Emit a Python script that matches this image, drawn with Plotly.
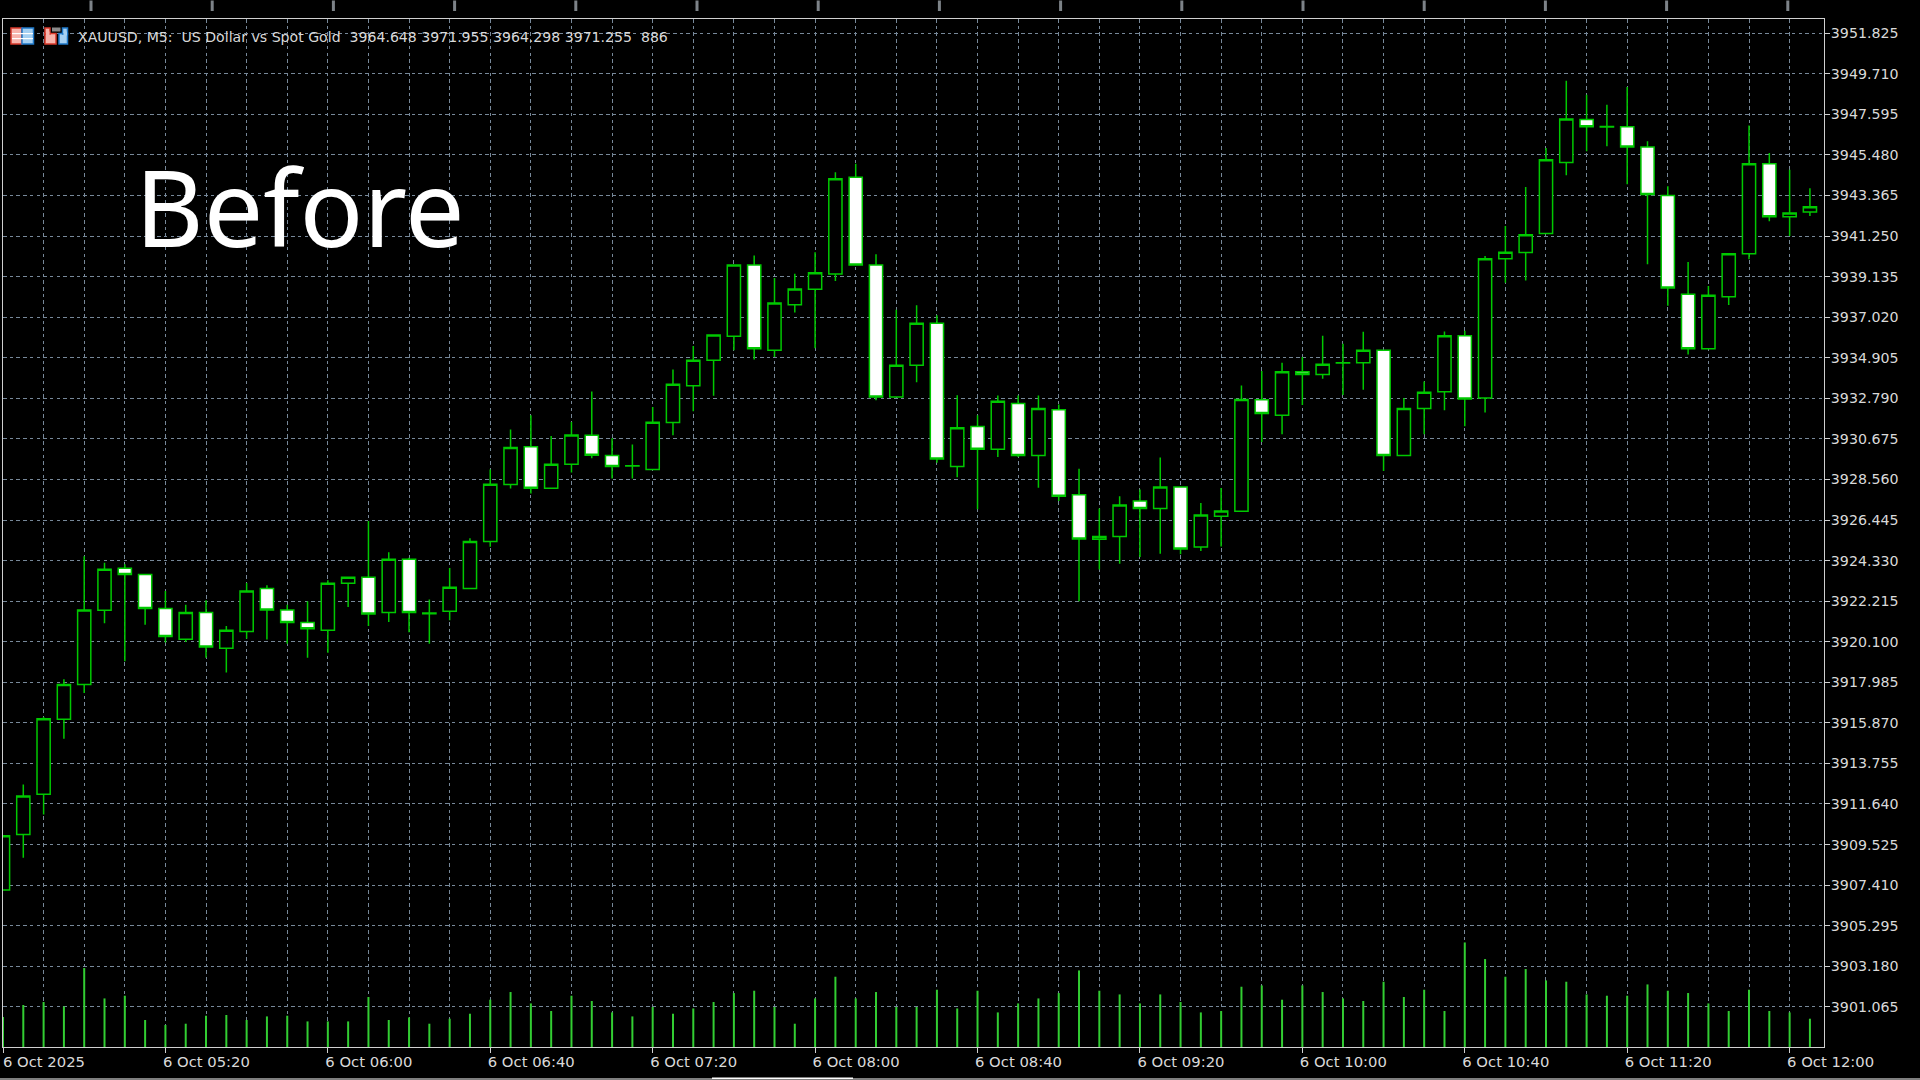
import pandas as pd
import plotly.graph_objects as go

opens = [3907.15,3910.05,3912.15,3916.06,3917.87,3921.74,3923.93,3923.60,3921.83,3920.23,
         3921.62,3919.76,3920.63,3922.87,3921.76,3921.10,3920.70,3923.15,3923.46,3921.62,
         3924.40,3921.60,3921.69,3922.87,3925.33,3928.30,3930.27,3928.10,3929.35,3930.87,
         3929.81,3929.28,3929.08,3931.53,3933.45,3934.77,3936.02,3939.74,3935.29,3937.67,
         3938.47,3939.27,3944.31,3939.74,3932.86,3934.51,3936.70,3929.23,3931.32,3930.14,
         3932.52,3929.81,3932.19,3927.76,3925.44,3925.58,3927.43,3927.04,3928.16,3925.04,
         3926.64,3926.90,3932.71,3931.91,3934.17,3934.03,3934.65,3934.64,3935.30,3929.81,
         3932.26,3933.13,3936.05,3932.80,3940.06,3940.39,3941.38,3945.09,3947.33,3946.96,
         3946.95,3945.89,3943.37,3938.22,3935.38,3938.08,3940.33,3945.02,3942.26,3942.50]
closes = [3909.98,3912.05,3916.08,3917.87,3921.76,3923.88,3923.61,3921.83,3920.37,3921.62,
          3919.83,3920.70,3922.75,3921.76,3921.10,3920.77,3923.15,3923.46,3921.55,3924.40,
          3921.62,3921.56,3922.94,3925.32,3928.31,3930.22,3928.10,3929.35,3930.88,3929.82,
          3929.23,3929.26,3931.54,3933.52,3934.77,3936.09,3939.74,3935.38,3937.76,3938.49,
          3939.34,3944.24,3939.74,3932.86,3934.51,3936.70,3929.62,3931.26,3930.14,3932.64,
          3929.81,3932.26,3927.69,3925.45,3925.59,3927.23,3927.04,3928.16,3924.93,3926.71,
          3926.91,3932.73,3932.00,3934.17,3934.03,3934.57,3934.63,3935.30,3929.81,3932.26,
          3933.11,3936.05,3932.75,3940.07,3940.40,3941.32,3945.23,3947.35,3946.95,3946.94,
          3945.89,3943.42,3938.54,3935.38,3938.16,3940.33,3945.02,3942.26,3942.45,3942.78]
highs = [3910.00,3912.66,3916.18,3918.14,3924.55,3924.22,3924.14,3923.60,3922.75,3922.03,
         3922.26,3920.92,3923.16,3923.04,3922.03,3922.21,3923.30,3923.46,3926.39,3924.76,
         3924.48,3922.30,3923.94,3925.49,3929.08,3931.16,3931.91,3930.83,3931.56,3933.14,
         3930.71,3930.38,3932.34,3934.29,3935.52,3936.09,3939.74,3940.23,3939.06,3939.29,
         3940.40,3944.58,3945.02,3940.30,3937.41,3937.64,3937.12,3932.95,3931.91,3932.94,
         3932.94,3932.94,3932.47,3929.12,3927.04,3927.68,3928.04,3929.71,3928.16,3927.33,
         3928.11,3933.46,3934.21,3934.64,3934.94,3936.05,3935.63,3936.26,3935.30,3932.80,
         3933.67,3936.27,3936.31,3940.21,3941.78,3943.81,3945.84,3949.35,3948.62,3948.10,
         3949.02,3946.19,3943.84,3939.90,3938.65,3940.33,3947.02,3945.58,3944.71,3943.74]
lows = [3907.15,3908.84,3911.09,3915.04,3917.43,3921.06,3919.08,3920.99,3920.06,3920.09,
        3919.26,3918.49,3920.26,3920.21,3920.00,3919.27,3919.53,3921.91,3920.92,3921.13,
        3920.59,3920.00,3921.22,3922.87,3925.05,3928.09,3927.83,3928.10,3928.92,3929.67,
        3928.61,3928.61,3929.08,3930.87,3932.12,3932.92,3935.29,3934.82,3934.95,3937.26,
        3935.40,3938.91,3939.74,3932.69,3932.86,3933.63,3929.43,3928.68,3927.00,3929.73,
        3929.73,3928.13,3927.43,3922.21,3923.86,3924.17,3924.52,3924.69,3924.66,3924.83,
        3925.07,3926.90,3930.51,3930.91,3932.44,3933.81,3932.96,3933.23,3929.00,3929.81,
        3930.91,3932.17,3931.34,3932.05,3938.81,3938.93,3941.38,3944.42,3945.67,3945.93,
        3943.95,3939.78,3937.61,3935.07,3935.38,3937.66,3940.04,3942.02,3941.25,3942.29]
volumes = [300,420,450,406,790,486,513,270,220,233,313,320,270,306,313,256,256,256,500,270,
           296,233,283,333,473,550,436,360,513,460,346,306,400,333,386,450,540,563,400,233,
           486,703,486,550,400,400,573,386,563,346,436,486,540,766,563,526,436,526,450,346,
           360,603,616,473,616,550,486,460,653,500,573,360,1046,880,703,780,666,653,526,513,
           513,626,563,540,436,360,573,360,346,283]

y_ticks = [3951.825,3949.710,3947.595,3945.480,3943.365,3941.250,3939.135,3937.020,3934.905,
           3932.790,3930.675,3928.560,3926.445,3924.330,3922.215,3920.100,3917.985,3915.870,
           3913.755,3911.640,3909.525,3907.410,3905.295,3903.180,3901.065]
y_labels = [f"{v:.3f}" for v in y_ticks]
x_ticks = ["2025-10-06 04:40","2025-10-06 05:20","2025-10-06 06:00","2025-10-06 06:40",
           "2025-10-06 07:20","2025-10-06 08:00","2025-10-06 08:40","2025-10-06 09:20",
           "2025-10-06 10:00","2025-10-06 10:40","2025-10-06 11:20","2025-10-06 12:00"]
x_labels = ["6 Oct 2025","6 Oct 05:20","6 Oct 06:00","6 Oct 06:40","6 Oct 07:20","6 Oct 08:00",
            "6 Oct 08:40","6 Oct 09:20","6 Oct 10:00","6 Oct 10:40","6 Oct 11:20","6 Oct 12:00"]
header = "XAUUSD, M5:  US Dollar vs Spot Gold  3964.648 3971.955 3964.298 3971.255  886"
stamp = "Before"

times = pd.date_range("2025-10-06 04:40", periods=len(opens), freq="5min")

W, H = 1920, 1080
L, R, T, B = 3, 1824, 18.5, 1047
px = lambda v: (v - L) / (R - L)
py = lambda v: (B - v) / (B - T)

GREEN = "#00c800"
GRID = "#778899"
TXT = "#d9d9d9"
DASH = "3.5px,3.2px"

fig = go.Figure()
fig.add_trace(go.Candlestick(
    x=times, open=opens, high=highs, low=lows, close=closes, whiskerwidth=0,
    increasing=dict(line=dict(color=GREEN, width=1.5), fillcolor="#000000"),
    decreasing=dict(line=dict(color=GREEN, width=1.5), fillcolor="#ffffff"),
    hoverinfo="skip", showlegend=False))
fig.add_trace(go.Bar(
    x=times, y=volumes, yaxis="y2", width=2 / 20.3 * 300000,
    marker=dict(color="#32cd32", line=dict(width=0)),
    hoverinfo="skip", showlegend=False))

shapes = []
# top tick marks of the platform window
for i in range(15):
    cx = 91 + i * 121.2
    shapes.append(dict(type="rect", xref="paper", yref="paper", layer="above",
                       x0=px(cx - 1.5), x1=px(cx + 1.5), y0=py(0), y1=py(10.5),
                       fillcolor="#7d8388", line=dict(width=0)))
# bottom scrollbar strip
shapes.append(dict(type="rect", xref="paper", yref="paper", x0=px(0), x1=px(1920), y0=py(1078), y1=py(1080),
                   fillcolor="#7f7f7f", line=dict(width=0)))
shapes.append(dict(type="rect", xref="paper", yref="paper", x0=px(712), x1=px(853), y0=py(1077.5), y1=py(1079),
                   fillcolor="#ffffff", line=dict(width=0)))
# header icons
def icon_rect(a, b, c, d, col, lw=0, lc=None):
    shapes.append(dict(type="rect", xref="paper", yref="paper", layer="above",
                       x0=px(a), x1=px(b), y0=py(c), y1=py(d), fillcolor=col,
                       line=dict(width=lw, color=lc or col)))
RED, BLUE, PINK, SKY = "#d8392b", "#1f78c8", "#f7b4ac", "#a5d0f2"
icon_rect(11, 22, 27.5, 43.5, PINK, 1.5, RED)
icon_rect(22, 33.5, 27.5, 43.5, SKY, 1.5, BLUE)
for yy in (32.5, 37.5):
    icon_rect(12, 33, yy, yy + 1.2, "#ffffff")
icon_rect(45, 56, 33, 43.5, PINK, 1.5, RED)
icon_rect(45, 50, 27.5, 33.5, PINK, 1.5, RED)
icon_rect(46, 49.5, 31, 35, PINK)
icon_rect(59, 67.5, 33, 43.5, SKY, 1.5, BLUE)
icon_rect(62.5, 67.5, 27.5, 33.5, SKY, 1.5, BLUE)
icon_rect(63.5, 67, 31, 35, SKY)
icon_rect(52, 60.5, 27, 31, "#8a8a8a")

annotations = [
    dict(text=header, xref="paper", yref="paper", x=px(76), y=py(36.5), xanchor="left", yanchor="middle",
         showarrow=False, font=dict(family="DejaVu Sans", size=14.1, color=TXT)),
    dict(text=stamp, xref="paper", yref="paper", x=px(132.5), y=py(205.5), xanchor="left", yanchor="middle",
         showarrow=False, font=dict(family="Noto Sans", size=105.6, color="#ffffff")),
]

fig.update_layout(
    width=W, height=H, autosize=False,
    paper_bgcolor="#000000", plot_bgcolor="#000000",
    margin=dict(l=L, r=W - R, t=T, b=H - B, pad=0),
    boxgap=0.35, boxgroupgap=0, barmode="overlay", showlegend=False,
    font=dict(family="DejaVu Sans", size=14, color=TXT),
    xaxis=dict(type="date", range=["2025-10-06 04:40:00", "2025-10-06 12:08:28"],
               rangeslider=dict(visible=False), tickmode="array", tickvals=x_ticks, ticktext=x_labels,
               ticks="outside", ticklen=5, tickcolor="#d0d0d0", tickwidth=1, ticklabelshift=41,
               ticklabelstandoff=-4, tickangle=0, tickfont=dict(size=14.8),
               showgrid=False,
               minor=dict(dtick=600000, tick0="2025-10-06 04:40", showgrid=True, gridcolor=GRID,
                          griddash=DASH, gridwidth=1, ticks=""),
               showline=True, mirror=True, linecolor="#d0d0d0", linewidth=1, zeroline=False),
    yaxis=dict(range=[3898.97, 3952.566], side="right", tickmode="array", tickvals=y_ticks, ticktext=y_labels,
               ticks="outside", ticklen=5, tickcolor="#d0d0d0", tickwidth=1, ticklabelstandoff=-2,
               tickfont=dict(size=14.2),
               showgrid=True, gridcolor=GRID, griddash=DASH, gridwidth=1,
               showline=True, mirror=True, linecolor="#d0d0d0", linewidth=1, zeroline=False),
    yaxis2=dict(overlaying="y", range=[0, 10285], visible=False, showgrid=False, zeroline=False),
    shapes=shapes, annotations=annotations,
)

fig.write_html("out.html", config=dict(displayModeBar=False, responsive=False),
               post_script="document.body.style.margin='0';document.body.style.background='#000';document.documentElement.style.overflow='hidden';")
